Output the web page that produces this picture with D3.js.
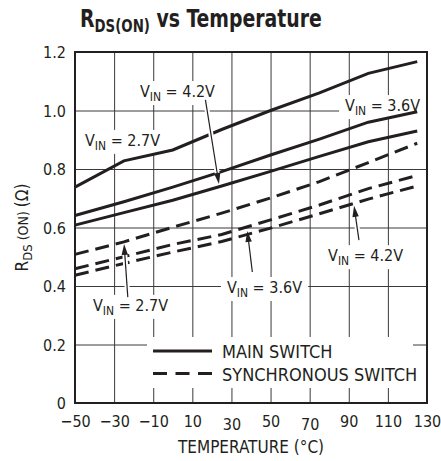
<!DOCTYPE html>
<html>
<head>
<meta charset="utf-8">
<script src="https://cdn.jsdelivr.net/npm/d3@7"></script>
<style>
  body { margin: 0; background: #fff; }
  svg text { font-family: "Liberation Sans Narrow", "DejaVu Sans Condensed", "Arial Narrow", sans-serif; fill: #231f20; }
</style>
</head>
<body>
<div id="chart"></div>
<script>
// readings (temperature in °C, resistance in ohms)
const temps = [-50, -25, 0, 25, 50, 75, 100, 125];
const mainVin27 = [0.738, 0.828, 0.865, 0.935, 1.000, 1.060, 1.127, 1.167];
const mainVin36 = [0.641, 0.688, 0.738, 0.791, 0.848, 0.902, 0.960, 0.996];
const mainVin42 = [0.608, 0.651, 0.693, 0.742, 0.792, 0.843, 0.893, 0.930];
const syncVin27 = [0.508, 0.551, 0.601, 0.649, 0.701, 0.757, 0.822, 0.888];
const syncVin36 = [0.459, 0.500, 0.542, 0.576, 0.626, 0.677, 0.733, 0.778];
const syncVin42 = [0.437, 0.477, 0.516, 0.552, 0.598, 0.647, 0.697, 0.742];

const xTicks = [-50, -30, -10, 10, 30, 50, 70, 90, 110, 130];
const yTicks = [0, 0.2, 0.4, 0.6, 0.8, 1.0, 1.2];
const legendLabels = ['MAIN SWITCH', 'SYNCHRONOUS SWITCH'];

// callouts: label anchor and arrow from -> to, in data units
const callouts = [
  { vin: '4.2V', at: [-16.8, 1.046], from: [16.7, 1.036], to: [23.6, 0.749] },
  { vin: '3.6V', at: [88.1, 0.998] },
  { vin: '2.7V', at: [-44.9, 0.879] },
  { vin: '2.7V', at: [-40.8, 0.315], from: [-23.0, 0.362], to: [-24.9, 0.544] },
  { vin: '3.6V', at: [27.7, 0.376], from: [40.7, 0.448], to: [38.1, 0.588] },
  { vin: '4.2V', at: [79.4, 0.485], from: [95.2, 0.557], to: [92.7, 0.674] }
];

const width = 441, height = 461,
  margin = { left: 75, top: 52, right: 14, bottom: 58 };
const ink = '#231f20';

const svg = d3.select('#chart')
  .append('svg')
  .attr('width', width)
  .attr('height', height)

const x = d3.scaleLinear().domain([-50, 130]).range([margin.left, width - margin.right]);
const y = d3.scaleLinear().domain([0, 1.2]).range([height - margin.bottom, margin.top]);
const plotW = x.range()[1] - x.range()[0], plotH = y.range()[0] - y.range()[1];

// grid + tick labels through axes
const gx = svg.append('g')
  .attr('transform', `translate(0,${y(0)})`)
  .call(d3.axisBottom(x).tickValues(xTicks).tickSize(-plotH)
    .tickFormat(d => d < 0 ? '\u2212' + Math.abs(d) : d));
const gy = svg.append('g')
  .attr('transform', `translate(${x(-50)},0)`)
  .call(d3.axisLeft(y).tickValues(yTicks).tickSize(-plotW)
    .tickFormat(d => d === 0 ? '0' : d3.format('.1f')(d)));

[gx, gy].forEach(g => {
  g.select('.domain').remove();
  g.selectAll('line').attr('stroke', '#3a3a3a').attr('stroke-width', 1);
  g.selectAll('text').attr('font-size', 16).attr('fill', ink);
});
gx.selectAll('text')
  .attr('dy', null)
  .attr('y', d => (d === 30 || d === 70) ? 27 : 24);
gy.selectAll('text').attr('x', -9).attr('dy', '0.36em');

// white patches behind labels (cut the grid)
const patches = svg.append('g');
const curves = svg.append('g');
const overlay = svg.append('g');

const line = d3.line()
  .x((d, i) => x(temps[i]))
  .y(d => y(d));

const series = [
  { values: mainVin27, dash: null },
  { values: mainVin36, dash: null },
  { values: mainVin42, dash: null },
  { values: syncVin27, dash: '14,7' },
  { values: syncVin36, dash: '14,7' },
  { values: syncVin42, dash: '14,7' }
];

curves.selectAll('path')
  .data(series)
  .enter()
  .append('path')
  .attr('d', d => line(d.values))
  .attr('fill', 'none')
  .attr('stroke', ink)
  .attr('stroke-width', 3)
  .attr('stroke-dasharray', d => d.dash);

// plot frame
svg.append('rect')
  .attr('x', x(-50)).attr('y', y(1.2))
  .attr('width', plotW).attr('height', plotH)
  .attr('fill', 'none').attr('stroke', ink).attr('stroke-width', 2);

const vinLabel = (g, px, py, vin) => {
  const t = g.append('text').attr('x', px).attr('y', py).attr('font-size', 16);
  t.append('tspan').text('V');
  t.append('tspan').attr('dy', 4).attr('font-size', 12).text('IN');
  t.append('tspan').attr('dy', -4).text(' = ' + vin);
  return t;
};

callouts.forEach(c => {
  const t = vinLabel(overlay, x(c.at[0]), y(c.at[1]), c.vin);
  const b = t.node().getBBox();
  patches.append('rect')
    .attr('x', b.x - 6).attr('y', b.y - 1)
    .attr('width', b.width + 12).attr('height', b.height + 2)
    .attr('fill', '#fff');
  if (!c.from) return;
  const x0 = x(c.from[0]), y0 = y(c.from[1]), x1 = x(c.to[0]), y1 = y(c.to[1]);
  const len = Math.hypot(x1 - x0, y1 - y0), ux = (x1 - x0) / len, uy = (y1 - y0) / len;
  overlay.append('line')
    .attr('x1', x0).attr('y1', y0)
    .attr('x2', x1 - ux * 10).attr('y2', y1 - uy * 10)
    .attr('stroke', '#fff').attr('stroke-width', 5);
  overlay.append('line')
    .attr('x1', x0).attr('y1', y0)
    .attr('x2', x1 - ux * 6).attr('y2', y1 - uy * 6)
    .attr('stroke', ink).attr('stroke-width', 1.2);
  const hl = 11, hw = 3.2;
  overlay.append('path')
    .attr('d', `M${x1},${y1}L${x1 - ux * hl - uy * hw},${y1 - uy * hl + ux * hw}`
      + `L${x1 - ux * hl + uy * hw},${y1 - uy * hl - ux * hw}Z`)
    .attr('fill', ink);
});

// legend
const lg = svg.append('g');
lg.append('rect')
  .attr('x', 147).attr('y', 337).attr('width', 266).attr('height', 51)
  .attr('fill', '#fff');
legendLabels.forEach((name, i) => {
  const cy = 351 + i * 22.5;
  lg.append('line')
    .attr('x1', 153).attr('x2', 212).attr('y1', cy).attr('y2', cy)
    .attr('stroke', ink).attr('stroke-width', 3)
    .attr('stroke-dasharray', i ? '14,8.5' : null);
  lg.append('text')
    .attr('x', 222).attr('y', cy + 7)
    .attr('font-size', 18)
    .text(name);
});

// title, squeezed to the width of the condensed original
const tg = svg.append('g').attr('transform', 'translate(80,27)');
const title = tg.append('text')
  .attr('font-size', 24).attr('font-weight', 'bold');
title.append('tspan').text('R');
title.append('tspan').attr('dy', 5).attr('font-size', 17).text('DS(ON)');
title.append('tspan').attr('dy', -5).text(' vs Temperature');
const tw = title.node().getBBox().width;
tg.attr('transform', `translate(80,27) scale(${242 / tw},1)`);

// axis titles
svg.append('text')
  .attr('x', x(40)).attr('y', 453)
  .attr('text-anchor', 'middle').attr('font-size', 17)
  .text('TEMPERATURE (\u00B0C)');

const yl = svg.append('text')
  .attr('transform', `translate(28,${y(0.6)}) rotate(-90)`)
  .attr('text-anchor', 'middle').attr('font-size', 17);
yl.append('tspan').text('R');
yl.append('tspan').attr('dy', 4).attr('font-size', 13).text('DS');
yl.append('tspan').attr('dy', -4).attr('font-size', 14).text(' (ON) ');
yl.append('tspan').text('(\u03A9)');
</script>
</body>
</html>
